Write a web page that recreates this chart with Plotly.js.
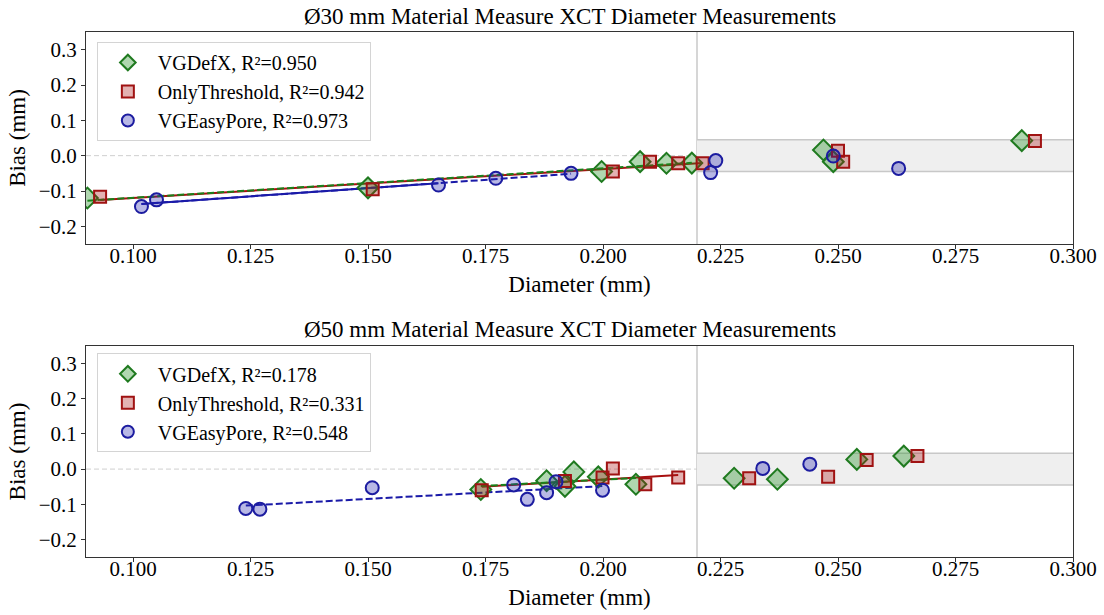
<!DOCTYPE html>
<html><head><meta charset="utf-8">
<script src="https://cdn.plot.ly/plotly-3.0.1.min.js"></script>
<style>html,body{margin:0;padding:0;background:#fff}#chart{width:1104px;height:615px}</style>
</head><body><div id="chart"></div>
<script>
// ---------- data ----------
const seriesNames = ['VGDefX', 'OnlyThreshold', 'VGEasyPore'];
const r2Labels30 = ['0.950', '0.942', '0.973'];
const r2Labels50 = ['0.178', '0.331', '0.548'];
const panelTitles = ['Ø30 mm Material Measure XCT Diameter Measurements',
                     'Ø50 mm Material Measure XCT Diameter Measurements'];

// Ø30 mm
const d30DefX = [0.0903, 0.150, 0.1997, 0.2079, 0.2135, 0.2189, 0.2469, 0.2490, 0.2891];
const b30DefX = [-0.120, -0.091, -0.045, -0.017, -0.0215, -0.021, 0.016, -0.017, 0.0425];
const d30Thr  = [0.093, 0.151, 0.2021, 0.210, 0.216, 0.2212, 0.2500, 0.2511, 0.2919];
const b30Thr  = [-0.116, -0.095, -0.045, -0.017, -0.0215, -0.0215, 0.014, -0.017, 0.0417];
const d30Easy = [0.1018, 0.105, 0.165, 0.1772, 0.1932, 0.2229, 0.2240, 0.2490, 0.2629];
const b30Easy = [-0.144, -0.125, -0.083, -0.064, -0.050, -0.048, -0.014, -0.001, -0.036];
const fitCount30 = [6, 6, 5];      // leading points of each series used in the linear fit
const easySolidUpTo30 = 2;         // VGEasyPore fit drawn solid up to this point index

// Ø50 mm
const d50DefX = [0.174, 0.188, 0.1919, 0.1938, 0.199, 0.207, 0.2279, 0.2371, 0.254, 0.264];
const b50DefX = [-0.058, -0.033, -0.049, -0.008, -0.022, -0.043, -0.026, -0.029, 0.0275, 0.037];
const d50Thr  = [0.1742, 0.1919, 0.1999, 0.2021, 0.209, 0.216, 0.2311, 0.2479, 0.2561, 0.2669];
const b50Thr  = [-0.060, -0.034, -0.024, 0.002, -0.043, -0.024, -0.026, -0.022, 0.0256, 0.037];
const d50Easy = [0.124, 0.127, 0.1509, 0.181, 0.1839, 0.188, 0.190, 0.1999, 0.234, 0.244];
const b50Easy = [-0.112, -0.114, -0.053, -0.045, -0.086, -0.067, -0.036, -0.060, 0.002, 0.014];
const fitCount50 = [6, 6, 8];

const splitX = 0.22;      // vertical reference line
const bandHalf = 0.045;   // grey tolerance band (±)

// ---------- styles ----------
const FONT = '"Liberation Serif", "Times New Roman", serif';
const edge = ['#1f7a1f', '#a01212', '#1c1ca0'];
const fill = ['rgba(30,140,30,0.35)', 'rgba(170,20,20,0.33)', 'rgba(40,40,175,0.33)'];
const lineCol = ['#1a801a', '#a80f0f', '#1a1aa8'];
const symbols = ['diamond', 'square', 'circle'];
const sizes = [16, 12, 13];

function fit(xs, ys, n) {
  const x = xs.slice(0, n), y = ys.slice(0, n);
  const mx = x.reduce((a, b) => a + b, 0) / n, my = y.reduce((a, b) => a + b, 0) / n;
  let sxy = 0, sxx = 0;
  for (let i = 0; i < n; i++) { sxy += (x[i] - mx) * (y[i] - my); sxx += (x[i] - mx) ** 2; }
  const m = sxy / sxx, c = my - m * mx;
  return { m, c, xmin: Math.min(...x), xmax: Math.max(...x) };
}

function panel(sets, counts, r2s, xa, ya, legendId, solidUpTo) {
  const tr = [];
  const fits = sets.map((s, i) => fit(s[0], s[1], counts[i]));
  const lineTrace = (f, i, dash, x0, x1) => ({
    type: 'scatter', mode: 'lines', x: [x0, x1], y: [f.m * x0 + f.c, f.m * x1 + f.c],
    xaxis: xa, yaxis: ya, showlegend: false, hoverinfo: 'skip',
    line: { color: lineCol[i], width: 2, dash: dash }, legend: legendId
  });
  tr.push(lineTrace(fits[1], 1, 'solid', fits[1].xmin, fits[1].xmax));
  tr.push(lineTrace(fits[0], 0, '7px,3px', fits[0].xmin, fits[0].xmax));
  tr.push(lineTrace(fits[2], 2, '7px,3px', fits[2].xmin, fits[2].xmax));
  if (solidUpTo !== null) {
    tr.push(lineTrace(fits[2], 2, 'solid', fits[2].xmin, sets[2][0][solidUpTo]));
  }
  sets.forEach((s, i) => {
    tr.push({
      type: 'scatter', mode: 'markers', x: s[0], y: s[1], xaxis: xa, yaxis: ya,
      name: seriesNames[i] + ', R²=' + r2s[i], legend: legendId, legendgroup: legendId + i,
      marker: { symbol: symbols[i], size: sizes[i], color: fill[i], line: { color: edge[i], width: 2 } },
      cliponaxis: true
    });
  });
  return tr;
}

const traces = [].concat(
  panel([[d30DefX, b30DefX], [d30Thr, b30Thr], [d30Easy, b30Easy]], fitCount30, r2Labels30, 'x', 'y', 'legend', easySolidUpTo30),
  panel([[d50DefX, b50DefX], [d50Thr, b50Thr], [d50Easy, b50Easy]], fitCount50, r2Labels50, 'x2', 'y2', 'legend2', null)
);

const xRange = [0.09, 0.30], yRange = [-0.25, 0.35];
function xAxis(anchor, domain) {
  return {
    anchor: anchor, domain: domain, range: xRange, tick0: 0.1, dtick: 0.025, tickformat: '.3f',
    showgrid: false, zeroline: false, showline: true, mirror: true, linecolor: '#333', linewidth: 1,
    ticks: 'outside', ticklen: 4, tickcolor: '#333', ticklabelstandoff: -11,
    tickfont: { family: FONT, size: 21, color: '#000' },
    title: { text: 'Diameter (mm)', font: { family: FONT, size: 23, color: '#000' }, standoff: 8 }
  };
}
function yAxis(anchor, domain) {
  return {
    anchor: anchor, domain: domain, range: yRange, dtick: 0.1, tickformat: '.1f',
    showgrid: false, zeroline: false, showline: true, mirror: true, linecolor: '#333', linewidth: 1,
    ticks: 'outside', ticklen: 4, tickcolor: '#333',
    tickfont: { family: FONT, size: 21, color: '#000' },
    title: { text: 'Bias (mm)', font: { family: FONT, size: 23, color: '#000' }, standoff: 6 }
  };
}

function refShapes(xr, yr) {
  const xd = xr === 'x' ? 'x domain' : 'x2 domain';
  const yd = yr === 'y' ? 'y domain' : 'y2 domain';
  return [
    { type: 'rect', xref: xr, yref: yr, x0: splitX, x1: xRange[1], y0: -bandHalf, y1: bandHalf,
      fillcolor: '#efefef', line: { width: 0 }, layer: 'below' },
    { type: 'line', xref: xr, yref: yr, x0: splitX, x1: xRange[1], y0: bandHalf, y1: bandHalf,
      line: { color: '#c8c8c8', width: 1.5 }, layer: 'below' },
    { type: 'line', xref: xr, yref: yr, x0: splitX, x1: xRange[1], y0: -bandHalf, y1: -bandHalf,
      line: { color: '#c8c8c8', width: 1.5 }, layer: 'below' },
    { type: 'line', xref: xd, yref: yr, x0: 0, x1: 1, y0: 0, y1: 0,
      line: { color: '#cfcfcf', width: 1, dash: '5px,3px' }, layer: 'below' },
    { type: 'line', xref: xr, yref: yd, x0: splitX, x1: splitX, y0: 0, y1: 1,
      line: { color: '#c8c8c8', width: 1.5 }, layer: 'below' }
  ];
}

const legendBase = {
  xanchor: 'left', yanchor: 'top', bgcolor: 'rgba(255,255,255,0.9)',
  bordercolor: '#d4d4d4', borderwidth: 1, font: { family: FONT, size: 20, color: '#000' },
  traceorder: 'grouped', tracegroupgap: 0, itemsizing: 'constant', itemwidth: 50
};

const layout = {
  width: 1104, height: 615,
  margin: { l: 86, r: 31, t: 32, b: 58 },
  paper_bgcolor: '#fff', plot_bgcolor: '#fff',
  font: { family: FONT, color: '#000' },
  xaxis: xAxis('y', [0, 1]), yaxis: yAxis('x', [0.5962, 1]),
  xaxis2: xAxis('y2', [0, 1]), yaxis2: yAxis('x2', [0, 0.4019]),
  legend: Object.assign({ x: 0.011, y: 0.981 }, legendBase),
  legend2: Object.assign({ x: 0.011, y: 0.388 }, legendBase),
  shapes: refShapes('x', 'y').concat(refShapes('x2', 'y2')),
  annotations: [
    { text: panelTitles[0], xref: 'paper', yref: 'paper', x: 0.49, y: 1.0286, xanchor: 'center', yanchor: 'middle',
      showarrow: false, font: { family: FONT, size: 23, color: '#000' } },
    { text: panelTitles[1], xref: 'paper', yref: 'paper', x: 0.49, y: 0.4324, xanchor: 'center', yanchor: 'middle',
      showarrow: false, font: { family: FONT, size: 23, color: '#000' } }
  ],
  showlegend: true
};

Plotly.newPlot('chart', traces, layout, { displayModeBar: false, staticPlot: true });
</script>
</body></html>
